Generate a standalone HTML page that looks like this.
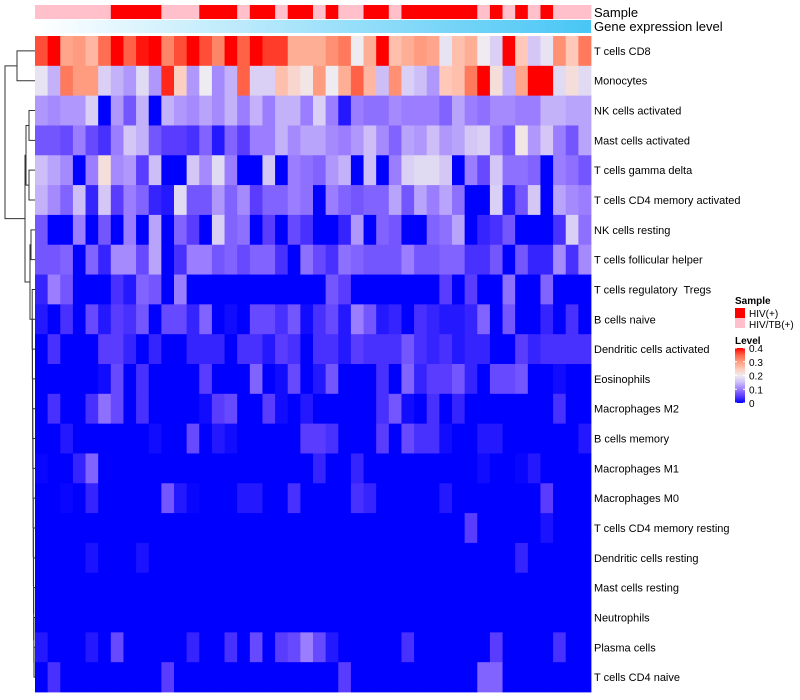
<!DOCTYPE html>
<html><head><meta charset="utf-8"><style>
html,body{margin:0;padding:0;background:#fff;}
svg{display:block;font-family:"Liberation Sans",Arial,sans-serif;}
svg text{white-space:pre;}
</style></head><body>
<svg id="chart" width="800" height="700" viewBox="0 0 800 700">
<g id="dendro" stroke="#333" stroke-width="1" fill="none"></g>
<g id="ann"></g>
<g id="cells"></g>
<g id="labels"></g>
<g id="legend"></g>
</svg>
<script>
const rowNames = ["T cells CD8","Monocytes","NK cells activated","Mast cells activated","T cells gamma delta","T cells CD4 memory activated","NK cells resting","T cells follicular helper","T cells regulatory  Tregs","B cells naive","Dendritic cells activated","Eosinophils","Macrophages M2","B cells memory","Macrophages M1","Macrophages M0","T cells CD4 memory resting","Dendritic cells resting","Mast cells resting","Neutrophils","Plasma cells","T cells CD4 naive"];
const sampleGroups = ["P","P","P","P","P","P","R","R","R","R","P","P","P","R","R","R","P","R","R","P","R","R","P","R","P","P","R","R","P","R","R","R","R","R","R","P","R","P","R","P","R","P","P","P"];
const levelTicks = [0,0.1,0.2,0.3,0.4];
const v0 = [0.36,0.42,0.29,0.30,0.27,0.34,0.42,0.35,0.39,0.45,0.32,0.36,0.41,0.36,0.32,0.44,0.35,0.42,0.37,0.37,0.28,0.28,0.28,0.31,0.33,0.20,0.28,0.42,0.26,0.28,0.30,0.29,0.19,0.26,0.28,0.20,0.17,0.43,0.25,0.16,0.19,0.31,0.25,0.33];
const v1 = [0.19,0.14,0.33,0.30,0.30,0.17,0.14,0.12,0.18,0.12,0.38,0.24,0.12,0.20,0.11,0.14,0.35,0.17,0.17,0.26,0.23,0.21,0.30,0.20,0.28,0.35,0.27,0.15,0.31,0.17,0.15,0.12,0.25,0.26,0.33,0.42,0.22,0.14,0.29,0.45,0.45,0.18,0.22,0.18];
const v2 = [0.12,0.11,0.12,0.12,0.17,0,0.12,0.07,0.14,0,0.14,0.12,0.11,0.13,0.11,0.14,0.10,0.14,0.10,0.14,0.14,0.10,0.17,0.10,0.02,0.10,0.09,0.09,0.11,0.10,0.10,0.10,0.08,0.13,0.10,0.09,0.11,0.11,0.10,0.10,0.14,0.14,0.13,0.13];
const v3 = [0.07,0.07,0.06,0.10,0.06,0.04,0.10,0.16,0.14,0.07,0.05,0.05,0.04,0.08,0.02,0.08,0.05,0.10,0.10,0.14,0.11,0.13,0.13,0.11,0.10,0.12,0.15,0.11,0.08,0.13,0.12,0.15,0.12,0.13,0.16,0.17,0.10,0.07,0.21,0.12,0.16,0.10,0.07,0.13];
const v4 = [0.15,0.13,0.11,0,0.10,0.22,0.11,0.12,0.05,0.15,0,0,0.16,0.11,0.18,0.10,0,0,0.16,0,0.10,0.09,0.08,0.12,0.14,0,0.15,0,0.10,0.17,0.18,0.18,0.16,0,0.10,0.06,0.16,0.09,0.09,0.08,0,0.10,0.09,0.07];
const v5 = [0.14,0.11,0.08,0.15,0.03,0.16,0.05,0.10,0.08,0.03,0.02,0.18,0.07,0.07,0.12,0.08,0.11,0.05,0.08,0.08,0.10,0.09,0,0.10,0.08,0.07,0.08,0.08,0.13,0.07,0.13,0.10,0.13,0.09,0,0,0.17,0.02,0.07,0.16,0,0.13,0.11,0.10];
const v6 = [0.07,0,0,0.10,0,0.07,0,0.10,0,0.13,0,0.08,0.05,0,0.17,0.08,0.09,0,0.05,0,0.06,0.04,0,0,0.03,0.12,0,0.08,0.07,0,0,0.08,0.09,0.13,0,0.03,0.04,0.07,0,0,0,0.04,0.17,0.09];
const v7 = [0.07,0.07,0.08,0,0.08,0.03,0.11,0.11,0.06,0.13,0,0.04,0.10,0.10,0.07,0.08,0.06,0.08,0.08,0.04,0,0.09,0.06,0.04,0.09,0.08,0.07,0.07,0.07,0.10,0.07,0.07,0.08,0.08,0.04,0.04,0.07,0,0.07,0.03,0.03,0.11,0.04,0.11];
const v8 = [0.03,0.10,0.07,0,0,0,0.04,0.02,0.08,0.07,0,0.10,0,0,0,0,0,0,0,0,0,0,0,0.07,0.05,0,0,0,0,0,0,0,0.05,0,0.05,0,0,0.09,0,0,0.08,0,0,0];
const v9 = [0.02,0,0.04,0,0.06,0.02,0.05,0.04,0.07,0,0.06,0.06,0.03,0.08,0,0.01,0,0.06,0.06,0.04,0.07,0.01,0.04,0.06,0.02,0.10,0.07,0.02,0.03,0,0.04,0.03,0.02,0.02,0.03,0.08,0,0.07,0,0,0.03,0,0.04,0];
const v10 = [0,0.04,0,0,0,0.05,0.05,0.03,0,0.03,0,0,0.03,0.03,0.03,0,0.04,0.04,0.02,0.05,0.04,0,0.04,0.04,0.02,0.05,0.04,0.04,0.04,0.07,0.04,0.03,0.04,0.02,0.03,0.03,0,0,0.05,0.03,0.04,0.04,0.04,0.04];
const v11 = [0,0,0,0,0,0.01,0.06,0,0.04,0,0,0,0,0.05,0,0,0,0.08,0,0.01,0.06,0,0.02,0.07,0,0,0,0.04,0,0.08,0.03,0.05,0.05,0.07,0.03,0,0.06,0.06,0.07,0,0,0.01,0,0];
const v12 = [0,0.04,0,0,0.04,0.09,0.06,0,0.04,0,0,0,0,0.01,0.05,0.06,0,0,0.05,0.01,0,0.02,0,0,0,0,0,0.04,0.07,0.01,0,0.04,0,0.03,0,0,0,0,0,0,0,0.04,0,0];
const v13 = [0,0,0.02,0,0,0,0,0,0,0.01,0,0,0.06,0,0.02,0.01,0,0,0,0,0,0.05,0.05,0.04,0,0,0,0.05,0,0.06,0.04,0.04,0.01,0,0,0.02,0.02,0,0,0,0,0,0,0.02];
const v14 = [0.005,0,0,0.03,0.08,0,0,0,0,0,0,0,0,0,0,0,0,0,0,0,0,0,0.03,0,0,0.03,0,0,0,0,0,0,0,0,0,0.01,0,0,0.005,0.02,0,0,0,0];
const v15 = [0,0,0.005,0,0.03,0,0,0,0,0,0.07,0.02,0.005,0,0,0,0.02,0.02,0,0,0.04,0,0,0,0,0.04,0.03,0,0,0,0,0,0.02,0,0,0,0,0,0,0,0.05,0,0,0];
const v16 = [0,0,0,0,0,0,0,0,0,0,0,0,0,0,0,0,0,0,0,0,0,0,0,0,0,0,0,0,0,0,0,0,0,0,0.05,0,0,0,0,0,0.015,0,0,0];
const v17 = [0,0,0,0,0.015,0,0,0,0.015,0,0,0,0,0,0,0,0,0,0,0,0,0,0,0,0,0,0,0,0,0,0,0,0,0,0,0,0,0,0.03,0,0,0,0,0];
const v18 = [0,0,0,0,0,0,0,0,0,0,0,0,0,0,0,0,0,0,0,0,0,0,0,0,0,0,0,0,0,0,0,0,0,0,0,0,0,0,0,0,0,0,0,0];
const v19 = [0,0,0,0,0,0,0,0,0,0,0,0,0,0,0,0,0,0,0,0,0,0,0,0,0,0,0,0,0,0,0,0,0,0,0,0,0,0,0,0,0,0,0,0];
const v20 = [0.02,0,0,0,0.02,0,0.06,0,0,0,0,0,0.03,0,0,0.04,0,0.06,0,0.05,0.06,0.10,0.06,0.02,0,0,0,0,0,0.04,0,0,0,0,0,0,0.05,0,0,0,0,0.04,0,0];
const v21 = [0,0.04,0,0,0,0,0,0,0,0,0.05,0,0,0,0,0,0,0,0,0,0,0,0,0,0.05,0,0,0,0,0,0,0,0,0,0,0.08,0.08,0,0,0,0,0,0,0];
const values = [v0,v1,v2,v3,v4,v5,v6,v7,v8,v9,v10,v11,v12,v13,v14,v15,v16,v17,v18,v19,v20,v21];

const NS="http://www.w3.org/2000/svg";
const X0=35, X1=591, Y0=36, Y1=692;
const nCols = values[0].length, nRows = rowNames.length;
const cw=(X1-X0)/nCols, rh=(Y1-Y0)/nRows;
const xScale = i => X0 + i*cw;
const yScale = j => Y0 + j*rh;
const stops=[[0,[0,0,255]],[0.05,[90,60,255]],[0.1,[155,125,255]],[0.15,[205,190,248]],[0.2,[238,236,240]],[0.25,[255,200,184]],[0.3,[255,156,128]],[0.35,[255,98,70]],[0.4,[255,0,0]]];
function col(v){
  if(v<=0) return "rgb(0,0,255)";
  if(v>=0.4) return "rgb(255,0,0)";
  for(let k=0;k<stops.length-1;k++){
    const a=stops[k],b=stops[k+1];
    if(v<=b[0]){const t=(v-a[0])/(b[0]-a[0]);
      const c=a[1].map((x,i)=>Math.round(x+(b[1][i]-x)*t));
      return `rgb(${c[0]},${c[1]},${c[2]})`;}
  }
}
function mk(tag,attrs,parent){const e=document.createElementNS(NS,tag);for(const k in attrs)e.setAttribute(k,attrs[k]);parent.appendChild(e);return e;}

const cells=document.getElementById('cells');
values.forEach((row,j)=>row.forEach((v,i)=>{
  const r=mk('rect',{x:xScale(i),y:yScale(j),width:cw+0.4,height:rh+0.4,fill:col(v)},cells);
  
  
}));

const ann=document.getElementById('ann');
sampleGroups.forEach((g,i)=>{
  const r=mk('rect',{x:xScale(i),y:5,width:cw+0.4,height:14,fill:g==="R"?"#FF0000":"#FFC0CB"},ann);
  
  
});
const defs=mk('defs',{},document.getElementById('chart'));
const lg=mk('linearGradient',{id:'gexp',x1:0,x2:1,y1:0,y2:0},defs);
mk('stop',{offset:0,'stop-color':'#ffffff'},lg);
mk('stop',{offset:1,'stop-color':'#48c6f5'},lg);
const ge=mk('rect',{x:X0,y:20,width:X1-X0,height:13,fill:'url(#gexp)'},ann);


const t1=mk('text',{x:594,y:17,'font-size':13,fill:'#000'},ann);t1.textContent="Sample";


const t2=mk('text',{x:594,y:31,'font-size':13,fill:'#000'},ann);t2.textContent="Gene expression level";



const labels=document.getElementById('labels');
rowNames.forEach((n,j)=>{
  const t=mk('text',{x:594,y:yScale(j)+rh/2+4,'font-size':11,fill:'#000'},labels);
  t.textContent=n;
  
  
});

const dg=document.getElementById('dendro');
const yc=j=>yScale(j)+rh/2;
function link(x,ya,yb,xa,xb){mk('path',{d:`M${xa},${ya}H${x}V${yb}H${xb}`},dg);}
link(17,yc(0),yc(1),35,35);
link(29,yc(2),yc(3),35,35);
link(29,yc(4),yc(5),35,35);
link(26,(yc(2)+yc(3))/2,(yc(4)+yc(5))/2,29,29);
link(31,yc(6),yc(7),35,35);
let prevY=yc(21), prevX=35;
for(let j=20;j>=8;j--){const x=34-(20-j)*0.15; link(x,yc(j),prevY,35,prevX); prevY=(yc(j)+prevY)/2; prevX=x;}
link(30,(yc(6)+yc(7))/2,prevY,31,prevX);
const b2=((yc(6)+yc(7))/2+prevY)/2;
link(25,(yc(3)+yc(4))/2,b2,26,30);
const bmid=((yc(3)+yc(4))/2+b2)/2;
link(5,(yc(0)+yc(1))/2,bmid,17,25);

const leg=document.getElementById('legend');
const st=mk('text',{x:735,y:304,'font-size':10,'font-weight':'bold'},leg);st.textContent="Sample";
const e1=mk('rect',{x:735,y:308,width:10,height:10,fill:'#FF0000'},leg);


const l1=mk('text',{x:749,y:317,'font-size':10},leg);l1.textContent="HIV(+)";
const e2=mk('rect',{x:735,y:318,width:10,height:10,fill:'#FFC0CB'},leg);


const l2=mk('text',{x:749,y:328,'font-size':10},leg);l2.textContent="HIV/TB(+)";
const lt=mk('text',{x:735,y:344,'font-size':10,'font-weight':'bold'},leg);lt.textContent="Level";
const cg=mk('linearGradient',{id:'lvl',x1:0,x2:0,y1:1,y2:0},defs);
stops.forEach(s=>mk('stop',{offset:s[0]/0.4,'stop-color':`rgb(${s[1].join(',')})`},cg));
const LB0=403, LB1=348;
const ly=v=>LB0-(v/0.4)*(LB0-LB1);
const cb=mk('rect',{x:735,y:LB1,width:10,height:LB0-LB1,fill:'url(#lvl)'},leg);


levelTicks.forEach(v=>{
  mk('line',{x1:735,x2:737,y1:ly(v),y2:ly(v),stroke:'#fff','stroke-width':1},leg);
  mk('line',{x1:743,x2:745,y1:ly(v),y2:ly(v),stroke:'#fff','stroke-width':1},leg);
  const t=mk('text',{x:749,y:ly(v)+4,'font-size':10},leg);t.textContent=String(v);
  
  
});
</script>
</body></html>
